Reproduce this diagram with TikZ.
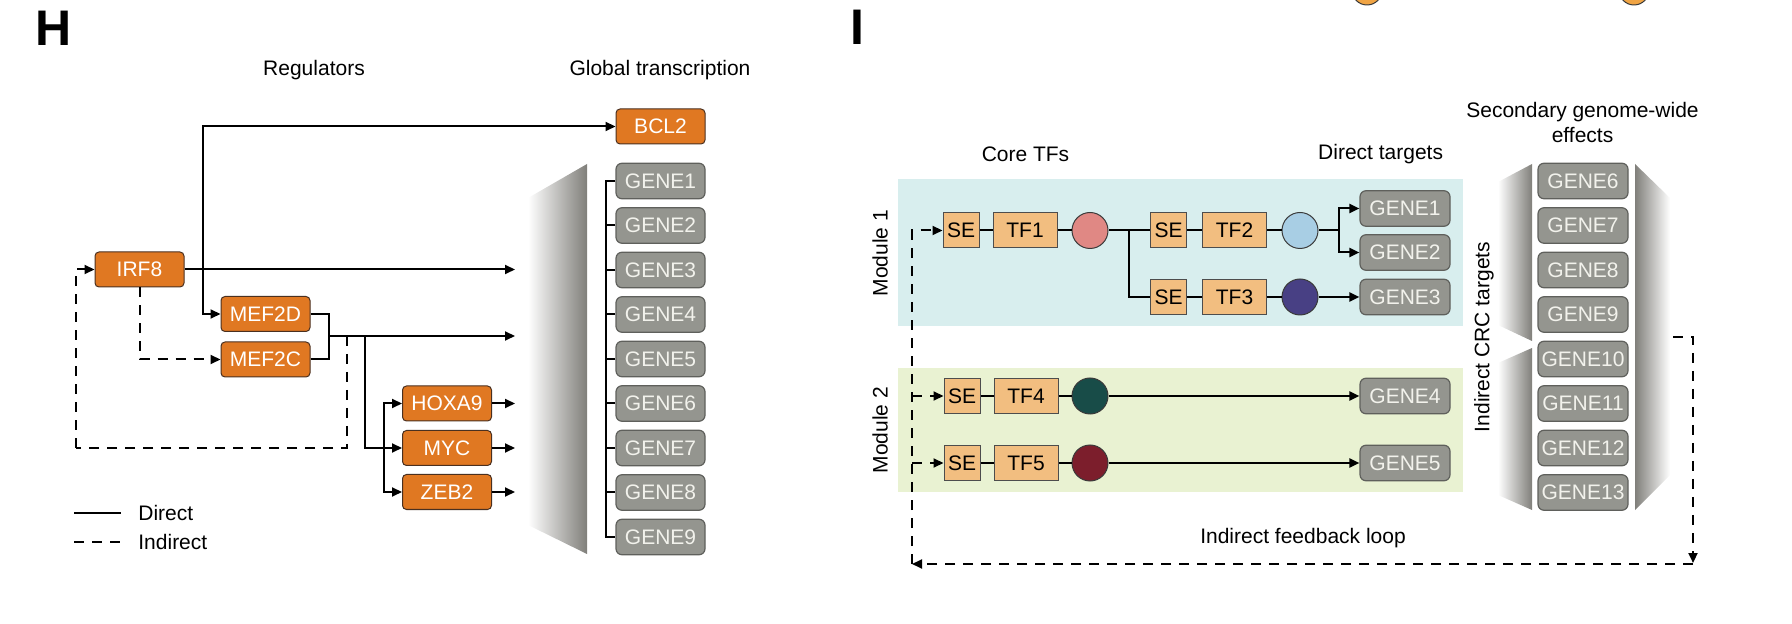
\documentclass[tikz,border=0pt]{standalone}
\usepackage{fontspec}
\setmainfont{Liberation Sans}
\usetikzlibrary{arrows.meta}
\newcommand{\myfs}{\fontsize{10.5}{12.6}\selectfont}
\definecolor{orangefill}{HTML}{E07822}
\definecolor{oborder}{HTML}{4A3020}
\definecolor{grayfill}{HTML}{94958F}
\definecolor{gborder}{HTML}{5F605C}
\definecolor{gtext}{HTML}{F2F2EC}
\definecolor{sefill}{HTML}{F2BE80}
\definecolor{seborder}{HTML}{4D4D4D}
\definecolor{dotborder}{HTML}{3A3A3A}
\definecolor{pinkdot}{HTML}{E08884}
\definecolor{bluedot}{HTML}{A8CEE4}
\definecolor{purpledot}{HTML}{484084}
\definecolor{greendot}{HTML}{184C48}
\definecolor{reddot}{HTML}{7C1E2C}
\definecolor{topdot}{HTML}{F0A444}
\definecolor{mod1}{HTML}{D8EEEE}
\definecolor{mod2}{HTML}{E9F2D2}
\definecolor{shadegray}{HTML}{807F7A}
\tikzset{
  base/.style={inner sep=0pt, font=\myfs},
  obox/.style={base, draw=oborder, fill=orangefill, text=white, rounded corners=2pt, minimum width=44.5pt, minimum height=17.5pt, line width=0.5pt},
  gbox/.style={base, draw=gborder, fill=grayfill, text=gtext, rounded corners=3pt, minimum width=44.5pt, minimum height=17.75pt, line width=0.6pt},
  igbox/.style={gbox, minimum width=45pt},
  sebox/.style={base, draw=seborder, fill=sefill, minimum width=18pt, minimum height=17.5pt, line width=0.5pt},
  tfbox/.style={sebox, minimum width=32pt},
  dot/.style={circle, draw=dotborder, line width=0.5pt, minimum size=18pt, inner sep=0pt},
  conn/.style={line width=1pt},
  arr/.style={conn, -{Triangle[length=5pt,width=4.5pt]}},
  dsh/.style={dash pattern=on 5pt off 4pt},
  lbl/.style={font=\myfs, inner sep=0pt},
  panel/.style={font=\fontsize{25}{30}\selectfont\bfseries, inner sep=0pt},
}
\begin{document}
\begin{tikzpicture}[x=0.5pt,y=-0.5pt]
\useasboundingbox (0,0) rectangle (1792,624);

% ================= Panel H =================
\node[panel] (H) at (53.5,28) {H};
\node[lbl] (reg) at (314,70) {Regulators};
\node[lbl] (glob) at (660,70) {Global transcription};

\shade[left color=white, right color=shadegray] (528,198) -- (587,164) -- (587,554) -- (528,525) -- cycle;

\node[obox] (bcl2) at (660.5,126.5) {BCL2};
\node[obox] (irf8) at (139.5,269.5) {IRF8};
\node[obox] (mef2d) at (265.5,314) {MEF2D};
\node[obox] (mef2c) at (265.5,359.5) {MEF2C};
\node[obox] (hoxa9) at (447,403.5) {HOXA9};
\node[obox] (myc) at (447,448) {MYC};
\node[obox] (zeb2) at (447,492) {ZEB2};

\foreach \i in {1,...,9} {
  \node[gbox] (hg\i) at (660.5,{181+44.5*(\i-1)}) {GENE\i};
}
\draw[conn] (hg1.west) -- ++(-9.5,0) |- (hg9.west);
\foreach \i in {2,...,8} { \draw[conn] (hg\i.west) -- ++(-9.5,0); }

\coordinate (hin1) at (515,269.5);
\coordinate (hin2) at (515,336);
\coordinate (hb) at (202.6,269.5);
\coordinate (hj) at (329,336);
\coordinate (hk) at (365,336);
\coordinate (hl) at (384,448);
\coordinate (hd) at (347,336);
\coordinate (hd3) at (75.5,448);

\draw[arr] (irf8.east) -- (hin1);
\draw[arr] (hb) |- (bcl2.west);
\draw[arr] (hb) |- (mef2d.west);
\draw[conn] (mef2d.east) -| (hj);
\draw[conn] (mef2c.east) -| (hj);
\draw[arr] (hj) -- (hin2);
\draw[arr] (hk) |- (myc.west);
\draw[arr] (hl) |- (hoxa9.west);
\draw[arr] (hl) |- (zeb2.west);
\foreach \n in {hoxa9,myc,zeb2} { \draw[arr] (\n.east) -- (\n.east -| hin1); }

\draw[arr,dsh] (irf8.south) |- (mef2c.west);
\draw[conn,dsh] (hd) |- (hd3);
\draw[arr,dsh] (hd3) |- (irf8.west);

% legend
\coordinate (l1a) at (74,513); \coordinate (l1b) at (121,513);
\coordinate (l2a) at (74,542); \coordinate (l2b) at (121,542);
\draw[conn] (l1a) -- (l1b);
\draw[conn,dsh] (l2a) -- (l2b);
\node[lbl, anchor=west] (ldir) at (138,513) {Direct};
\node[lbl, anchor=west] (lind) at (138,542) {Indirect};

% ================= Panel I =================
\begin{scope}
\clip (0,0) rectangle (1792,624);
\node[dot, fill=topdot, minimum size=15pt] (tc1) at (1367,-10) {};
\node[dot, fill=topdot, minimum size=15pt] (tc2) at (1634,-10) {};
\end{scope}

\node[panel] (I) at (857,27.5) {I};

\fill[mod1] (898,179) rectangle (1463,326);
\fill[mod2] (898,368) rectangle (1463,492);

\node[lbl] (core) at (1025.5,154) {Core TFs};
\node[lbl] (dirt) at (1380.6,154) {Direct targets};
\node[lbl, align=center, font=\fontsize{10.5}{12.5}\selectfont] (sec) at (1582.5,122.5) {Secondary genome-wide\\effects};
\node[lbl, rotate=90] (m1) at (880,253) {Module 1};
\node[lbl, rotate=90] (m2) at (880,430) {Module 2};
\node[lbl, rotate=90] (crc) at (1484,337) {Indirect CRC targets};
\node[lbl] (fbl) at (1303,538) {Indirect feedback loop};

% row 1
\node[sebox] (se1) at (961,230.5) {SE};
\node[tfbox] (tf1) at (1025,230.5) {TF1};
\node[dot, fill=pinkdot] (c1) at (1090,230.5) {};
\node[sebox] (se2) at (1168.5,230.5) {SE};
\node[tfbox] (tf2) at (1234.5,230.5) {TF2};
\node[dot, fill=bluedot] (c2) at (1300,230.5) {};
% row 2
\node[sebox] (se3) at (1168.5,297) {SE};
\node[tfbox] (tf3) at (1234.5,297) {TF3};
\node[dot, fill=purpledot] (c3) at (1300,297) {};
% module 2
\node[sebox] (se4) at (962,396) {SE};
\node[tfbox] (tf4) at (1026,396) {TF4};
\node[dot, fill=greendot] (c4) at (1090,396) {};
\node[sebox] (se5) at (962,463) {SE};
\node[tfbox] (tf5) at (1026,463) {TF5};
\node[dot, fill=reddot] (c5) at (1090,463) {};

\node[igbox] (ig1) at (1405,208.5) {GENE1};
\node[igbox] (ig2) at (1405,252.5) {GENE2};
\node[igbox] (ig3) at (1405,297) {GENE3};
\node[igbox] (ig4) at (1405,396) {GENE4};
\node[igbox] (ig5) at (1405,463) {GENE5};

\coordinate (ij) at (1128.5,230.5);
\coordinate (ibr) at (1339,230.5);
\draw[conn] (se1) -- (tf1) -- (c1) -- (se2) -- (tf2) -- (c2) -- (ibr);
\draw[conn] (ij) |- (se3.west);
\draw[conn] (se3) -- (tf3) -- (c3);
\draw[arr] (ibr) |- (ig1.west);
\draw[arr] (ibr) |- (ig2.west);
\draw[arr] (c3) -- (ig3);
\draw[conn] (se4) -- (tf4) -- (c4);
\draw[arr] (c4) -- (ig4);
\draw[conn] (se5) -- (tf5) -- (c5);
\draw[arr] (c5) -- (ig5);

% secondary column shading
\shade[left color=white, right color=shadegray] (1498,182) -- (1532,164) -- (1532,341) -- (1498,325) -- cycle;
\shade[left color=white, right color=shadegray] (1498,363) -- (1532,348) -- (1532,510) -- (1498,495) -- cycle;
\shade[left color=shadegray, right color=white] (1635,164) -- (1670,198) -- (1670,475) -- (1635,510) -- cycle;

\foreach \k in {6,...,13} {
  \node[igbox] (sg\k) at (1583,{181+44.5*(\k-6)}) {GENE\k};
}

% feedback loop
\coordinate (fbt) at (1673,337);
\coordinate (fbtr) at (1693,337);
\coordinate (fbbr) at (1693,563);
\coordinate (fbbl) at (912,564);
\draw[arr,dsh] (fbt) -- (fbtr) -- (fbbr);
\draw[arr,dsh] (fbbr |- fbbl) -- (fbbl);
\draw[arr,dsh] (fbbl) |- (se1.west);
\draw[arr,dsh] (fbbl |- se4.west) -- (se4.west);
\draw[arr,dsh] (fbbl |- se5.west) -- (se5.west);
\end{tikzpicture}
\end{document}
